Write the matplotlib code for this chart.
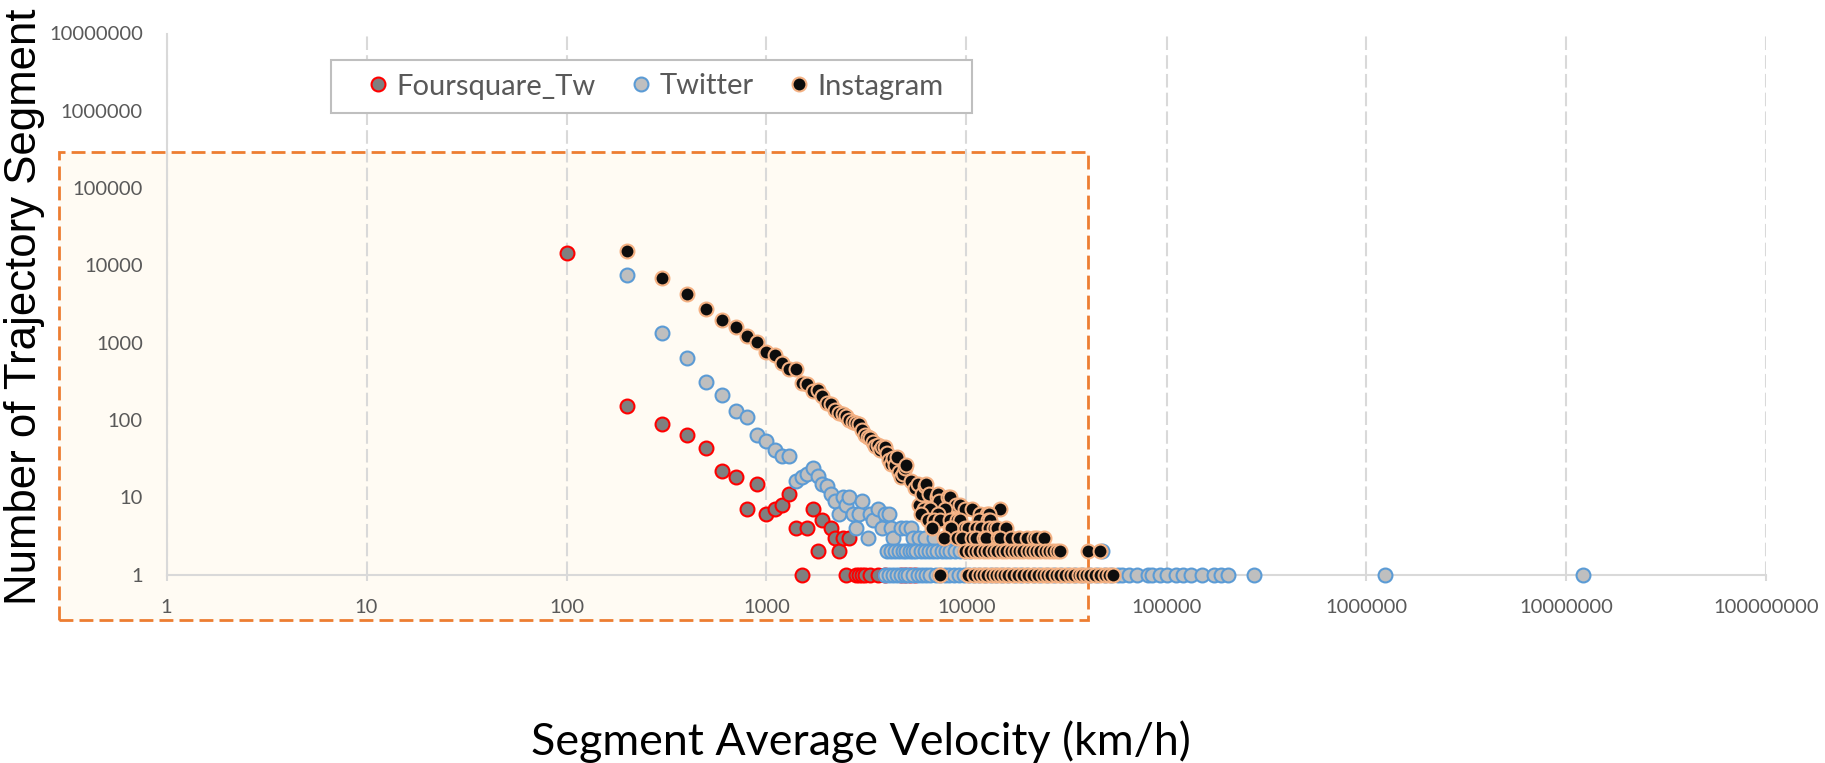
import matplotlib
matplotlib.use('Agg')
import matplotlib.pyplot as plt
from matplotlib.patches import Rectangle
from matplotlib.ticker import FixedLocator, FixedFormatter, NullLocator

# ---------------- data ----------------
x_ticks = [1, 10, 100, 1000, 10000, 100000, 1000000, 10000000, 100000000]
x_labels = ['1', '10', '100', '1000', '10000', '100000', '1000000', '10000000', '100000000']
y_ticks = [1, 10, 100, 1000, 10000, 100000, 1000000, 10000000]
y_labels = ['1', '10', '100', '1000', '10000', '100000', '1000000', '10000000']

series_names = ['Foursquare_Tw', 'Twitter', 'Instagram']

# Foursquare_Tw
fsq_speed = [100, 200, 300, 400, 500, 600, 700, 800, 900, 1000, 1100, 1200, 1300, 1400,
             1500, 1600, 1700, 1800, 1900, 2100, 2200, 2300, 2400, 2500, 2600, 2800,
             2900, 3000, 3100, 3300, 3600, 3900, 4700, 4900, 5200, 5500]
fsq_count = [14500, 150, 88, 63, 43, 22, 18, 7, 15, 6, 7, 8, 11, 4,
             1, 4, 7, 2, 5, 4, 3, 2, 3, 1, 3, 1,
             1, 1, 1, 1, 1, 1, 1, 1, 1, 1]

# Twitter
tw_speed = [200, 300, 400, 500, 600, 700, 800, 900, 1000, 1100, 1200, 1300, 1400, 1500,
            1600, 1700, 1800, 1900, 2000, 2100, 2200, 2300, 2400, 2500, 2600, 2700, 2800,
            2900, 3000, 3200, 3300, 3400, 3600, 3800, 3900, 4100, 4200, 4300, 4700, 5000,
            5300, 5400, 5800, 6200, 6900, 8500, 9500]
tw_count = [7500, 1340, 627, 305, 210, 130, 108, 64, 53, 41, 34, 34, 16, 18,
            20, 24, 19, 15, 14, 11, 9, 6, 10, 8, 10, 6, 4,
            6, 9, 3, 6, 5, 7, 4, 6, 6, 4, 3, 4, 4,
            4, 3, 3, 3, 3, 3, 3]
tw_speed_at2 = [4000, 4200, 4400, 4600, 4800, 5000, 5200, 5400, 5600, 5900, 6200, 6500,
                6800, 7100, 7500, 7900, 8300, 8800, 9300, 9800, 10400, 47500]
tw_speed_at1 = [3900, 4100, 4300, 4500, 4700, 4900, 5100, 5400, 5700, 6000, 6300, 6600,
                7000, 7400, 7800, 8200, 8700, 9200, 9700, 10300, 10900, 11600, 12400,
                13200, 14100, 15100, 16200, 17400, 18700, 20100, 21700, 23400, 25300,
                27400, 29700, 32200, 35000, 38000, 41500, 45000, 49000, 53000, 57000,
                60000, 65000, 71000, 81000, 85000, 93000, 101000, 111000, 121000, 132000,
                151000, 172000, 188000, 203000, 274000, 1240000, 12100000]

# Instagram
ig_speed = [200, 300, 400, 500, 600, 700, 800, 900, 1000, 1100, 1200, 1300, 1400, 1500,
            1600, 1700, 1800, 1900, 2000, 2100, 2200, 2300, 2400, 2500, 2600, 2700, 2800,
            2900, 3000, 3100, 3200, 3300, 3400, 3500, 3600, 3700, 3800, 3900, 4000, 4100,
            4200, 4300, 4400, 4500, 4600, 4700, 4800, 4900, 5000, 5300, 5500, 5700, 5800,
            6000, 6200, 6300, 6500, 7100, 7200, 7300, 8100, 8300, 8900, 9300]
ig_count = [15200, 6800, 4250, 2720, 1960, 1600, 1230, 1020, 760, 690, 550, 450, 450, 300,
            290, 235, 245, 205, 165, 160, 134, 122, 118, 112, 100, 95, 92,
            88, 74, 64, 61, 58, 52, 46, 47, 41, 44, 45, 37, 30,
            27, 32, 26, 33, 21, 18, 20, 24, 26, 16, 13, 15, 8,
            11, 14, 15, 11, 10, 11, 9, 10, 10, 8, 8]
ig_speed_at7 = [6100, 6600, 7800, 9800, 10700, 14700]
ig_speed_at6 = [5900, 7200, 11700, 12600, 12900]
ig_speed_at5 = [6400, 6900, 7400, 8300, 9000, 9300, 11500, 12800, 13100]
ig_speed_at4 = [6700, 8300, 8400, 9800, 10200, 11200, 11800, 13000, 13800, 14200, 15700]
ig_speed_at3 = [7700, 9000, 9500, 10600, 11200, 12300, 12500, 14400, 14700, 16600, 18200,
                20000, 21800, 22400, 24400]
ig_speed_at2 = [9800, 10400, 11000, 11600, 12200, 12800, 13500, 14200, 15000, 15800, 16600,
                17400, 18300, 19200, 20200, 21200, 22300, 23400, 24600, 25800, 27000, 28200,
                29300, 40600, 46500]
ig_speed_at1 = [7400, 10200, 10900, 11500, 12100, 12700, 13400, 14000, 14700, 15400, 16200,
                17100, 18100, 19200, 20300, 21500, 22700, 24000, 25200, 26600, 28000, 29500,
                31000, 32800, 34600, 36500, 37600, 39500, 41500, 44000, 46500, 49000, 51500,
                54200]

# full point lists per series
tw_x = tw_speed + tw_speed_at2 + tw_speed_at1
tw_y = tw_count + [2] * len(tw_speed_at2) + [1] * len(tw_speed_at1)
ig_levels = [(7, ig_speed_at7), (6, ig_speed_at6), (5, ig_speed_at5), (4, ig_speed_at4),
             (3, ig_speed_at3), (2, ig_speed_at2), (1, ig_speed_at1)]
ig_x = list(ig_speed)
ig_y = list(ig_count)
for c, sp in ig_levels:
    ig_x += sp
    ig_y += [c] * len(sp)

# ---------------- figure ----------------
plt.rcParams['font.family'] = ['Lato', 'DejaVu Sans']
W, H = 1825, 763
fig = plt.figure(figsize=(W / 100, H / 100), dpi=100)

# highlighted (dashed orange) region
fig.patches.append(Rectangle((59 / W, 1 - 620 / H), (1088 - 59) / W, (620 - 151.5) / H,
                             transform=fig.transFigure, facecolor='#FFFBF3',
                             edgecolor='#ED7D31', lw=2, ls=(0, (5, 2.2)), zorder=-1))

ax = fig.add_axes([166.5 / W, 1 - 574.5 / H, 1600 / W, 541 / H])
ax.set_facecolor('none')
ax.set_xscale('log')
ax.set_yscale('log')
ax.set_xlim(1, 1e8)
ax.set_ylim(1, 1e7)

ms = 100
lw = 1.5
h1 = ax.scatter(fsq_speed, fsq_count, s=ms, facecolor='#7F7F7F', edgecolor='#FF0000',
                linewidths=lw, zorder=3, clip_on=False)
h2 = ax.scatter(tw_x, tw_y, s=ms, facecolor='#BFBFBF', edgecolor='#5B9BD5',
                linewidths=lw, zorder=4, clip_on=False)
h3 = ax.scatter(ig_x, ig_y, s=ms, facecolor='#0D0D0D', edgecolor='#F4B183',
                linewidths=lw, zorder=5, clip_on=False)

ax.xaxis.set_major_locator(FixedLocator(x_ticks))
ax.xaxis.set_major_formatter(FixedFormatter(x_labels))
ax.yaxis.set_major_locator(FixedLocator(y_ticks))
ax.yaxis.set_major_formatter(FixedFormatter(y_labels))
ax.xaxis.set_minor_locator(NullLocator())
ax.yaxis.set_minor_locator(NullLocator())

ax.tick_params(axis='x', direction='out', length=4.5, width=1.5, color='#D9D9D9',
               pad=13, labelsize=14.5, labelcolor='#595959')
ax.tick_params(axis='y', length=0, pad=17, labelsize=14.5, labelcolor='#595959')

ax.set_axisbelow(True)
ax.xaxis.grid(True, ls=(0, (6.5, 2.5)), color='#D9D9D9', lw=1.5)
ax.yaxis.grid(False)
for side in ['top', 'right']:
    ax.spines[side].set_visible(False)
for side in ['left', 'bottom']:
    ax.spines[side].set_color('#D9D9D9')
    ax.spines[side].set_linewidth(1.5)

# legend box
fig.patches.append(Rectangle((331 / W, 1 - 113 / H), (972 - 331) / W, 53 / H,
                             transform=fig.transFigure, facecolor='white',
                             edgecolor='#BFBFBF', lw=1.5, zorder=2))
fig.legend([h1, h2, h3], series_names, loc='center left',
           bbox_to_anchor=(368 / W, 1 - 86.5 / H), ncol=3, frameon=False,
           fontsize=21, handlelength=0.7, handletextpad=0.28, columnspacing=1.2,
           borderpad=0, borderaxespad=0, scatterpoints=1, scatteryoffsets=[0.5],
           labelcolor='#595959')

fig.text(25 / W, 1 - 307 / H, 'Number of Trajectory Segment', rotation=90,
         ha='center', va='center', fontsize=31.5,
         family=['Liberation Sans', 'DejaVu Sans'], color='black')
fig.text(861 / W, 1 - 755 / H, 'Segment Average Velocity (km/h)', ha='center',
         va='baseline', fontsize=32.2, color='black')

fig.savefig('out.png', dpi=100)
